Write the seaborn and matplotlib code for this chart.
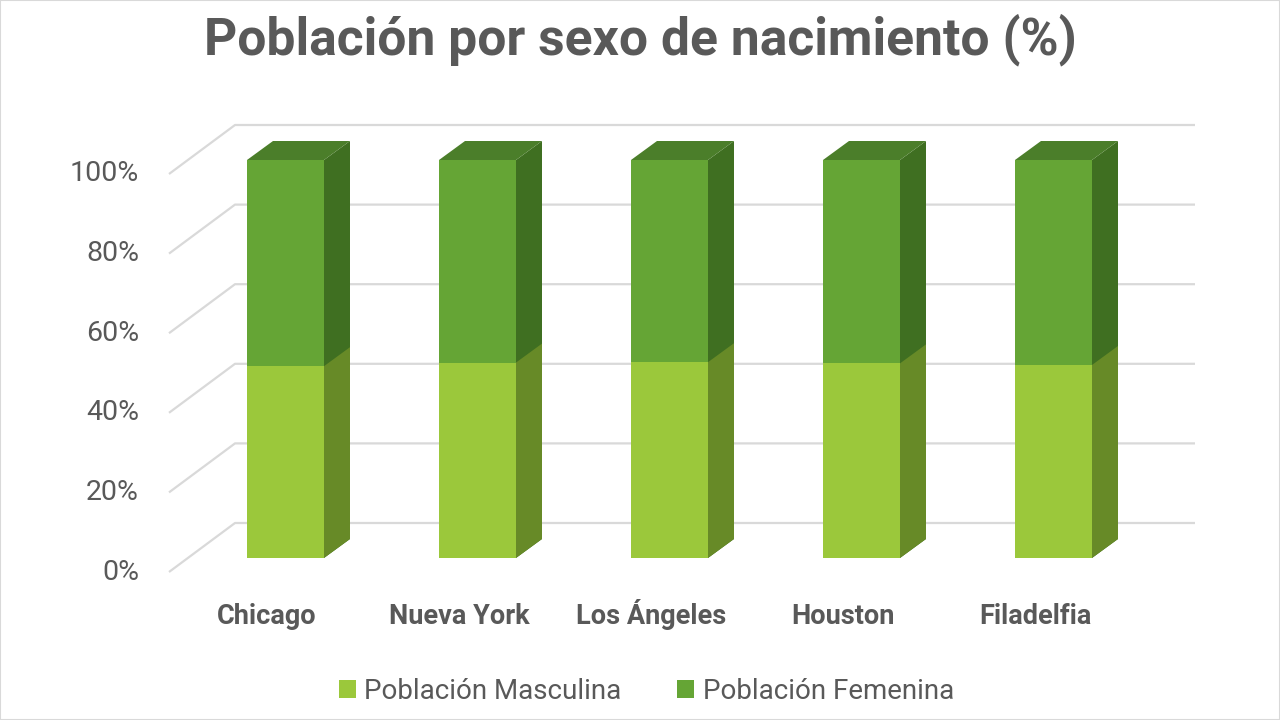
import numpy as np
import pandas as pd
import matplotlib
matplotlib.use('Agg')
import matplotlib.pyplot as plt
from matplotlib.patches import Polygon, Patch, Rectangle
import seaborn as sns

# data
cities = ['Chicago', 'Nueva York', 'Los Ángeles', 'Houston', 'Filadelfia']
male_pct = [48.2, 49.1, 49.2, 48.9, 48.5]
female_pct = [51.8, 50.9, 50.8, 51.1, 51.5]
y_ticks = [0, 20, 40, 60, 80, 100]
series_names = ['Población Masculina', 'Población Femenina']

df = pd.DataFrame({'city': cities, 'male': male_pct, 'female': female_pct})
df['total'] = df['male'] + df['female']

sns.set_theme(style='white')
plt.rcParams['font.family'] = ['Roboto', 'DejaVu Sans']

TEXT = '#595959'
GRID = '#D9D9D9'
c_male, c_male_side = '#9BC83B', '#678A27'
c_fem, c_fem_side, c_fem_top = '#65A535', '#3F6F21', '#4B7E2A'

# pixel -> data scale (axes covers the whole figure)
PX_X = 192.0   # px per category
PX_Y = 3.98    # px per percent
def dx(px): return px / PX_X
def dy(px): return px / PX_Y

fig = plt.figure(figsize=(12.8, 7.2), dpi=100)
ax = fig.add_axes([0, 0, 1, 1])

sns.barplot(data=df, x='city', y='total', color=c_fem, width=dx(77),
            saturation=1, linewidth=0, edgecolor='none', ax=ax, zorder=3)
sns.barplot(data=df, x='city', y='male', color=c_male, width=dx(77),
            saturation=1, linewidth=0, edgecolor='none', ax=ax, zorder=4)

ax.set_xlim(-285.5 / PX_X, (1280 - 285.5) / PX_X)
ax.set_ylim(-162 / PX_Y, (720 - 162) / PX_Y)
ax.axis('off')

# depth of the boxes
bdx, bdy = dx(26), dy(19)
# wall planes relative to the bar front plane
wall_l = dx(187.5 - 285.5)
back_dx, back_dy = dx(47.5), dy(35)
front_dx, front_dy = dx(-18.5), dy(-14)
grid_right = dx(1195 - 285.5)

for v in y_ticks:
    ax.plot([wall_l + front_dx, wall_l + back_dx, grid_right],
            [v + front_dy, v + back_dy, v + back_dy],
            color=GRID, lw=1.6, zorder=1, solid_capstyle='butt')
    ax.text(dx(139 - 285.5), v + front_dy, f'{v}%', ha='right', va='center',
            fontsize=20.5, color=TEXT)

n = len(cities)
fem_bars = ax.patches[:n]
male_bars = ax.patches[n:2 * n]
for bars, side_col in [(fem_bars, c_fem_side), (male_bars, c_male_side)]:
    for p in bars:
        x, y0, w, h = p.get_x(), p.get_y(), p.get_width(), p.get_height()
        zo = p.get_zorder()
        ax.add_patch(Polygon([(x + w, y0), (x + w + bdx, y0 + bdy),
                              (x + w + bdx, y0 + h + bdy), (x + w, y0 + h)],
                             closed=True, facecolor=side_col, edgecolor='none', zorder=zo))
for p in fem_bars:
    x, w, top = p.get_x(), p.get_width(), p.get_y() + p.get_height()
    ax.add_patch(Polygon([(x, top), (x + bdx, top + bdy), (x + w + bdx, top + bdy),
                          (x + w, top)], closed=True, facecolor=c_fem_top,
                         edgecolor='none', zorder=5))

for i, c in enumerate(cities):
    ax.text(i + front_dx, dy(558 - 624.5), c, ha='center', va='baseline',
            fontsize=19.5, fontweight='bold', color=TEXT)

fig.text(0.5, 1 - 54 / 720, 'Población por sexo de nacimiento (%)', ha='center',
         va='baseline', fontsize=37.2, fontweight='bold', color=TEXT)

handles = [Patch(facecolor=c_male, edgecolor='none'), Patch(facecolor=c_fem, edgecolor='none')]
fig.legend(handles, series_names, loc='center', bbox_to_anchor=(0.505, 0.040), ncol=2,
           frameon=False, fontsize=20, labelcolor=TEXT, handlelength=0.62,
           handleheight=0.62, handletextpad=0.3, columnspacing=2.0)

fig.add_artist(Rectangle((0, 0), 1, 1, transform=fig.transFigure, fill=False,
                         edgecolor=GRID, lw=1.5))

fig.savefig('out.png', dpi=100)
plt.close(fig)
